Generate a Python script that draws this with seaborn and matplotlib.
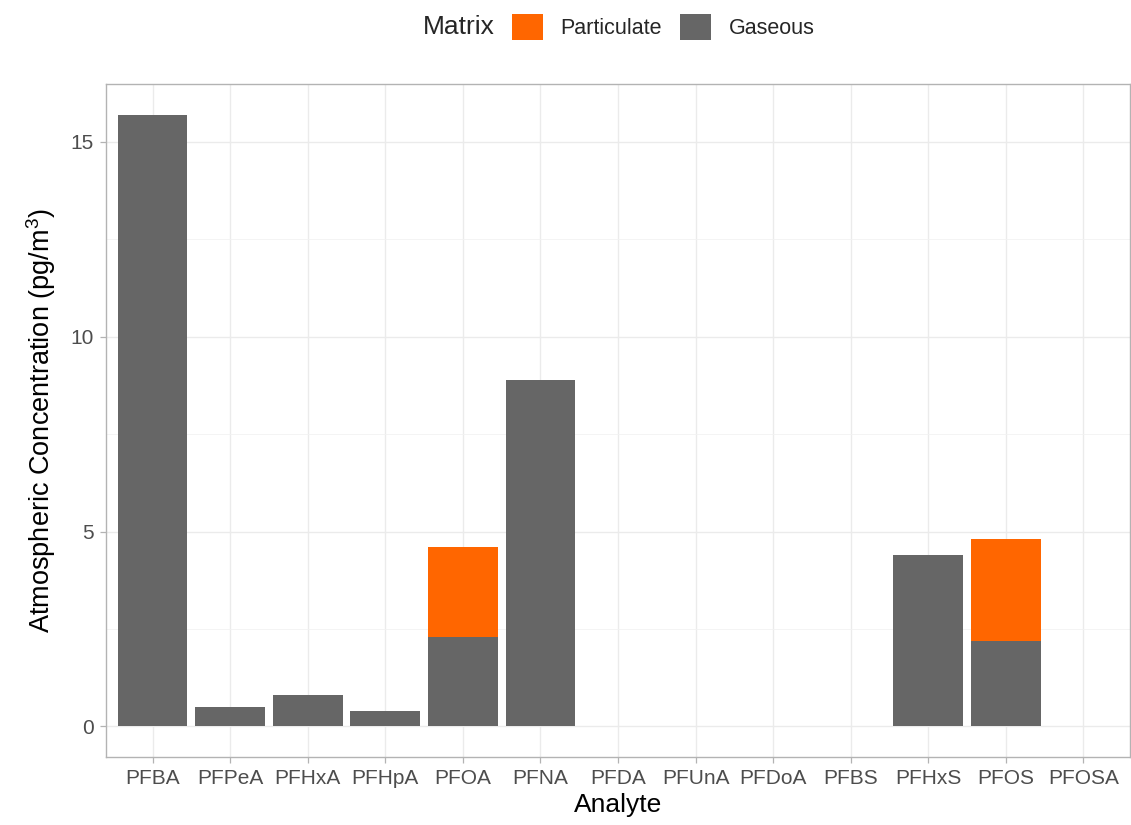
import matplotlib
matplotlib.use("Agg")
import matplotlib.pyplot as plt
import seaborn as sns
import pandas as pd
from matplotlib.patches import Patch
from matplotlib.ticker import MultipleLocator

# Atmospheric PFAS concentrations (pg/m3) by analyte and matrix
analytes = ["PFBA", "PFPeA", "PFHxA", "PFHpA", "PFOA", "PFNA", "PFDA",
            "PFUnA", "PFDoA", "PFBS", "PFHxS", "PFOS", "PFOSA"]
gaseous = [15.7, 0.5, 0.8, 0.4, 2.3, 8.9, 0, 0, 0, 0, 4.4, 2.2, 0]
particulate = [0, 0, 0, 0, 2.3, 0, 0, 0, 0, 0, 0, 2.6, 0]

matrix_levels = ["Particulate", "Gaseous"]
matrix_colors = {"Particulate": "#FF6600", "Gaseous": "#666666"}

sns.set_theme(style="whitegrid")
plt.rcParams["font.family"] = ["Liberation Sans", "DejaVu Sans"]
plt.rcParams["mathtext.default"] = "regular"

df = pd.DataFrame({"Analyte": analytes, "Gaseous": gaseous,
                   "Particulate": particulate})
df["Total"] = df["Gaseous"] + df["Particulate"]

W, H = 1131, 825
fig = plt.figure(figsize=(W / 100, H / 100), dpi=100)
left, right, top, bottom = 106, 1130, 84, 757
ax = fig.add_axes([left / W, 1 - bottom / H, (right - left) / W, (bottom - top) / H])
ax.set_axisbelow(True)

# stacked bars: particulate on top of gaseous
sns.barplot(data=df, x="Analyte", y="Total", order=analytes,
            color=matrix_colors["Particulate"], saturation=1, width=0.9,
            errorbar=None, linewidth=0, ax=ax)
sns.barplot(data=df, x="Analyte", y="Gaseous", order=analytes,
            color=matrix_colors["Gaseous"], saturation=1, width=0.9,
            errorbar=None, linewidth=0, ax=ax)

ymax = df["Total"].max()
ax.set_ylim(-0.05 * ymax, 1.05 * ymax)
ax.set_xlim(-0.6, len(analytes) - 1 + 0.6)
ax.yaxis.set_major_locator(MultipleLocator(5))
ax.yaxis.set_minor_locator(MultipleLocator(2.5))

ax.grid(which="major", axis="both", color="#EBEBEB", linewidth=1.0)
ax.grid(which="minor", axis="y", color="#F2F2F2", linewidth=0.6)
for s in ax.spines.values():
    s.set_visible(True)
    s.set_color("#B3B3B3")
    s.set_linewidth(1.0)

ax.tick_params(axis="both", which="major", length=4, width=0.9,
               color="#B3B3B3", labelcolor="#4D4D4D", labelsize=15,
               bottom=True, left=True, direction="out")
ax.tick_params(axis="x", pad=5)
ax.tick_params(axis="y", pad=5)
ax.tick_params(which="minor", length=0)

ax.set_xlabel("Analyte", fontsize=19, color="black", labelpad=3)
ax.set_ylabel("Atmospheric Concentration (pg/m$^3$)", fontsize=19.5,
              color="black", labelpad=9)

# legend across the top
fig.text(423 / W, 1 - 27 / H, "Matrix", fontsize=19, ha="left", va="center")
handles = [Patch(facecolor=matrix_colors[m], edgecolor="none") for m in matrix_levels]
fig.legend(handles, matrix_levels, ncol=2, loc="center left",
           bbox_to_anchor=(512 / W, 1 - 27 / H), frameon=False,
           fontsize=15.5, handlelength=1.45, handleheight=1.45,
           handletextpad=0.8, columnspacing=0.85, borderpad=0,
           borderaxespad=0)

fig.savefig("out.png", dpi=100)
